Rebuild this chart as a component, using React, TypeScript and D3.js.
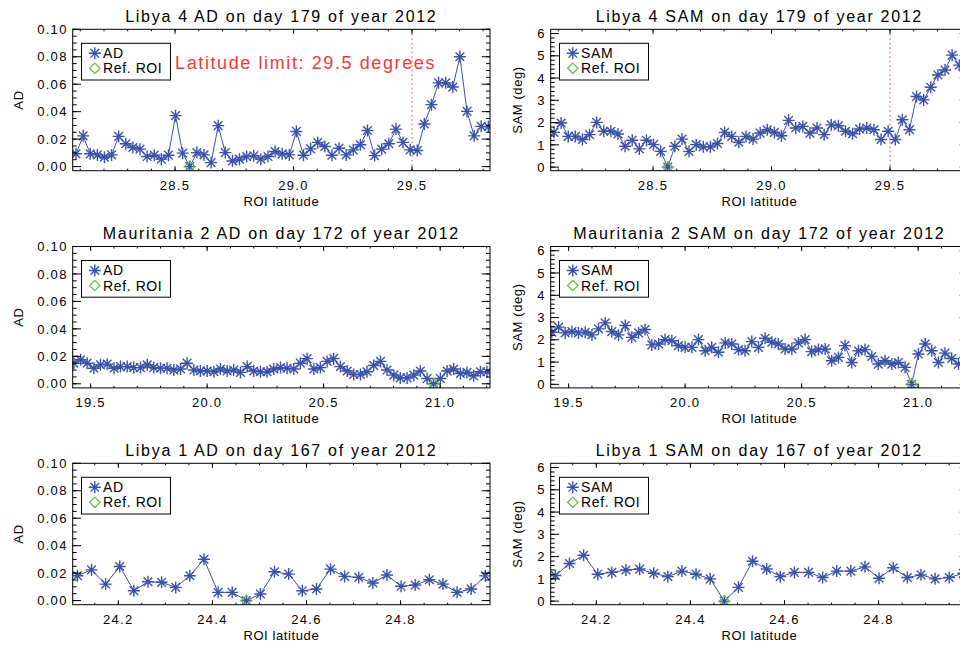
import React from 'react';
import * as d3 from 'd3';

// ---------------- data ----------------
const LAT_LIBYA4 = [28.082, 28.112, 28.142, 28.172, 28.202, 28.232, 28.262, 28.292, 28.322, 28.352,
  28.382, 28.412, 28.442, 28.472, 28.502, 28.532, 28.562, 28.592, 28.622, 28.652,
  28.682, 28.712, 28.742, 28.772, 28.802, 28.832, 28.862, 28.892, 28.922, 28.952,
  28.982, 29.012, 29.042, 29.072, 29.102, 29.132, 29.162, 29.192, 29.222, 29.252,
  29.282, 29.312, 29.342, 29.372, 29.402, 29.432, 29.462, 29.492, 29.522, 29.552,
  29.582, 29.612, 29.642, 29.672, 29.702, 29.732, 29.762, 29.792, 29.822];
const AD_LIBYA4 = [0.0093, 0.0224, 0.0093, 0.0085, 0.0068, 0.0085, 0.0220, 0.0166, 0.0139, 0.0127,
  0.0073, 0.0083, 0.0054, 0.0083, 0.0371, 0.0098, 0.0, 0.0102, 0.0085, 0.0029,
  0.0298, 0.0102, 0.0041, 0.0054, 0.0073, 0.0078, 0.0054, 0.0073, 0.0110, 0.0093,
  0.0085, 0.0256, 0.0083, 0.0129, 0.0176, 0.0146, 0.0083, 0.0134, 0.0085, 0.0122,
  0.0159, 0.0263, 0.0080, 0.0127, 0.0166, 0.0273, 0.0176, 0.0122, 0.0117, 0.0310,
  0.0451, 0.0610, 0.0610, 0.0580, 0.0800, 0.0402, 0.0224, 0.0293, 0.0290];
const SAM_LIBYA4 = [1.56, 1.98, 1.38, 1.38, 1.24, 1.46, 2.01, 1.61, 1.61, 1.49,
  0.94, 1.21, 0.82, 1.21, 1.01, 0.71, 0.0, 0.94, 1.26, 0.71,
  1.01, 0.91, 0.91, 1.06, 1.56, 1.38, 1.12, 1.38, 1.26, 1.53,
  1.68, 1.56, 1.41, 2.10, 1.76, 1.83, 1.53, 1.76, 1.46, 1.90,
  1.86, 1.61, 1.50, 1.71, 1.76, 1.68, 1.24, 1.61, 1.24, 2.13,
  1.68, 3.17, 3.02, 3.59, 4.14, 4.36, 5.03, 4.58, 4.80];

const LAT_MAUR2 = [19.428, 19.457, 19.485, 19.514, 19.542, 19.571, 19.600, 19.628, 19.657, 19.685,
  19.714, 19.743, 19.771, 19.800, 19.828, 19.857, 19.886, 19.914, 19.943, 19.971,
  20.000, 20.029, 20.057, 20.086, 20.114, 20.143, 20.172, 20.200, 20.229, 20.257,
  20.286, 20.315, 20.343, 20.372, 20.400, 20.429, 20.458, 20.486, 20.515, 20.543,
  20.572, 20.601, 20.629, 20.658, 20.686, 20.715, 20.744, 20.772, 20.801, 20.829,
  20.858, 20.887, 20.915, 20.944, 20.972, 21.001, 21.030, 21.058, 21.087, 21.115,
  21.144, 21.173, 21.201];
const AD_MAUR2 = [0.0150, 0.0175, 0.0150, 0.0113, 0.0138, 0.0143, 0.0113, 0.0125, 0.0125, 0.0118,
  0.0118, 0.0138, 0.0118, 0.0113, 0.0113, 0.0100, 0.0108, 0.0150, 0.0100, 0.0093,
  0.0093, 0.0088, 0.0108, 0.0093, 0.0100, 0.0083, 0.0125, 0.0093, 0.0088, 0.0088,
  0.0108, 0.0118, 0.0113, 0.0108, 0.0150, 0.0183, 0.0108, 0.0118, 0.0163, 0.0183,
  0.0125, 0.0093, 0.0068, 0.0068, 0.0088, 0.0133, 0.0163, 0.0100, 0.0063, 0.0043,
  0.0043, 0.0063, 0.0093, 0.0038, 0.0, 0.0038, 0.0093, 0.0108, 0.0075, 0.0083,
  0.0058, 0.0088, 0.0088];
const SAM_MAUR2 = [2.34, 2.57, 2.31, 2.37, 2.31, 2.34, 2.22, 2.49, 2.76, 2.37,
  2.22, 2.64, 2.11, 2.31, 2.46, 1.77, 1.81, 2.01, 1.96, 1.74,
  1.66, 1.66, 2.01, 1.51, 1.66, 1.44, 1.86, 1.81, 1.56, 1.51,
  1.92, 1.66, 2.07, 1.89, 1.81, 1.59, 1.59, 1.86, 2.01, 1.47,
  1.56, 1.59, 1.06, 1.21, 1.74, 0.98, 1.51, 1.56, 1.25, 0.91,
  1.06, 0.91, 0.98, 0.76, 0.0, 1.36, 1.81, 1.51, 0.98, 1.40,
  1.16, 0.91, 1.20];

const LAT_LIBYA1 = [24.113, 24.143, 24.173, 24.203, 24.233, 24.263, 24.292, 24.322, 24.352, 24.382,
  24.412, 24.442, 24.472, 24.502, 24.532, 24.562, 24.591, 24.621, 24.651, 24.681,
  24.711, 24.741, 24.771, 24.801, 24.831, 24.861, 24.890, 24.920, 24.950, 24.980];
const AD_LIBYA1 = [0.0181, 0.0224, 0.0120, 0.0248, 0.0072, 0.0137, 0.0133, 0.0096, 0.0181, 0.0301,
  0.0060, 0.0060, 0.0, 0.0048, 0.0210, 0.0193, 0.0072, 0.0084, 0.0229, 0.0176,
  0.0169, 0.0128, 0.0186, 0.0104, 0.0113, 0.0152, 0.0120, 0.0060, 0.0084, 0.0180];
const SAM_LIBYA1 = [1.15, 1.69, 2.06, 1.21, 1.29, 1.40, 1.44, 1.25, 1.10, 1.35,
  1.21, 1.00, 0.0, 0.62, 1.79, 1.44, 1.10, 1.29, 1.29, 1.06,
  1.35, 1.35, 1.54, 1.03, 1.50, 1.06, 1.18, 1.00, 1.06, 1.25];

const REF_LAT = [28.562, 20.972, 24.472];
const REF_VALUE = 0;

const X_DOMAINS: [number, number][] = [[28.068, 29.829], [19.423, 21.214], [24.103, 24.990]];
const X_TICKS = [[28.5, 29.0, 29.5], [19.5, 20.0, 20.5, 21.0], [24.2, 24.4, 24.6, 24.8]];
const X_MINOR_STEP = [0.1, 0.1, 0.05];
const AD_TICKS = [0, 0.02, 0.04, 0.06, 0.08, 0.1];
const SAM_TICKS = [0, 1, 2, 3, 4, 5, 6];
const AD_DOMAIN: [number, number] = [-0.003, 0.1];
const SAM_DOMAIN: [number, number] = [-0.16, 6.19];

const TITLES_AD = ['Libya 4 AD on day 179 of year 2012', 'Mauritania 2 AD on day 172 of year 2012', 'Libya 1 AD on day 167 of year 2012'];
const TITLES_SAM = ['Libya 4 SAM on day 179 of year 2012', 'Mauritania 2 SAM on day 172 of year 2012', 'Libya 1 SAM on day 167 of year 2012'];
const LAT_LIMIT = 29.5;
const LIMIT_TEXT = 'Latitude limit: 29.5 degrees';

// ---------------- styling ----------------
const FONT = '"Liberation Sans", Arial, sans-serif';
const BLUE = '#3a52a8';
const GREEN = '#6cc04a';
const RED = '#f03a3a';
const W = 417.3;
const H = 141.4;
const LEFT_X = [72.7, 550.7];
const TOP_Y = [29.3, 246.5, 463.3];

function starPath(cx: number, cy: number, r: number) {
  const d = r * 0.72;
  return `M${cx - r},${cy}h${2 * r}M${cx},${cy - r}v${2 * r}M${cx - d},${cy - d}l${2 * d},${2 * d}M${cx - d},${cy + d}l${2 * d},${-2 * d}`;
}
function diamondPath(cx: number, cy: number, r: number) {
  return `M${cx},${cy - r}L${cx + r},${cy}L${cx},${cy + r}L${cx - r},${cy}Z`;
}

type PanelProps = {
  id: string; left: number; top: number; lat: number[]; vals: number[];
  xDomain: [number, number]; xTicks: number[]; xMinor: number;
  yDomain: [number, number]; yTicks: number[]; yMinor: number; yFmt: (v: number) => string;
  yTitle: string; yTitleOffset: number; title: string; legend: string; refLat: number;
  limit?: boolean; limitText?: boolean;
};

function Panel(p: PanelProps) {
  const x = d3.scaleLinear().domain(p.xDomain).range([p.left, p.left + W]);
  const y = d3.scaleLinear().domain(p.yDomain).range([p.top + H, p.top]);
  const pts = p.lat.map((la, i) => [la, p.vals[i]] as [number, number]);
  const line = d3.line<[number, number]>().x(d => x(d[0])).y(d => y(d[1]));
  const bottom = p.top + H;
  const right = p.left + W;
  const xMinor = d3.range(Math.ceil(p.xDomain[0] / p.xMinor - 1e-6), Math.floor(p.xDomain[1] / p.xMinor + 1e-6) + 1).map(k => k * p.xMinor);
  const yMinor = d3.range(Math.ceil(p.yDomain[0] / p.yMinor - 1e-6), Math.floor(p.yDomain[1] / p.yMinor + 1e-6) + 1).map(k => k * p.yMinor);
  const ticks: string[] = [];
  xMinor.forEach(v => { const X = x(v); ticks.push(`M${X},${bottom}v-2M${X},${p.top}v2`); });
  p.xTicks.forEach(v => { const X = x(v); ticks.push(`M${X},${bottom}v-4.5M${X},${p.top}v4.5`); });
  yMinor.forEach(v => { const Y = y(v); ticks.push(`M${p.left},${Y}h4M${right},${Y}h-4`); });
  p.yTicks.forEach(v => { const Y = y(v); ticks.push(`M${p.left},${Y}h8.3M${right},${Y}h-8.3`); });
  const lgX = p.left + 8.8;
  const lgY = p.top + 14;
  return (
    <g>
      <defs>
        <clipPath id={`clip-${p.id}`}>
          <rect x={p.left} y={p.top} width={W} height={H} />
        </clipPath>
      </defs>
      <text x={p.left + W / 2} y={p.top - 7.6} textAnchor="middle" fontSize={16} letterSpacing={1.7} fontFamily={FONT} fill="#000">{p.title}</text>
      <g clipPath={`url(#clip-${p.id})`}>
        {p.limit && (
          <line x1={x(LAT_LIMIT)} x2={x(LAT_LIMIT)} y1={p.top} y2={bottom} stroke={RED} strokeWidth={1} strokeDasharray="1.5,3" />
        )}
        <path d={line(pts) || ''} fill="none" stroke={BLUE} strokeWidth={1} />
        {pts.map((d, i) => (
          <path key={i} d={starPath(x(d[0]), y(d[1]), 6)} stroke={BLUE} strokeWidth={1.4} fill="none" />
        ))}
        <path d={diamondPath(x(p.refLat), y(REF_VALUE), 5.2)} stroke={GREEN} strokeWidth={1.3} fill="none" />
      </g>
      <rect x={p.left} y={p.top} width={W} height={H} fill="none" stroke="#000" strokeWidth={1} />
      <path d={ticks.join('')} stroke="#000" strokeWidth={1} fill="none" />
      {p.xTicks.map(v => (
        <text key={v} x={x(v)} y={bottom + 19.3} textAnchor="middle" fontSize={13} letterSpacing={1.3} fontFamily={FONT} fill="#000">{v.toFixed(1)}</text>
      ))}
      {p.yTicks.map(v => (
        <text key={v} x={p.left - 5} y={y(v)} dy="0.36em" textAnchor="end" fontSize={13} letterSpacing={1.3} fontFamily={FONT} fill="#000">{p.yFmt(v)}</text>
      ))}
      <text x={p.left + W / 2} y={bottom + 35.5} textAnchor="middle" fontSize={13} letterSpacing={0.6} fontFamily={FONT} fill="#000">ROI latitude</text>
      <text transform={`translate(${p.left - p.yTitleOffset},${p.top + H / 2}) rotate(-90)`} textAnchor="middle" fontSize={13} letterSpacing={0.6} fontFamily={FONT} fill="#000">{p.yTitle}</text>
      {p.limitText && (
        <text x={x(28.5)} y={y(0.0709)} fontSize={18} letterSpacing={1.6} fontFamily={FONT} fill={RED}>{LIMIT_TEXT}</text>
      )}
      <rect x={lgX} y={lgY} width={89} height={36.7} fill="#fff" stroke="#000" strokeWidth={1} />
      <path d={starPath(lgX + 13.3, lgY + 10, 6)} stroke={BLUE} strokeWidth={1.4} fill="none" />
      <text x={lgX + 21.6} y={lgY + 14.2} fontSize={14} letterSpacing={0.6} fontFamily={FONT} fill="#000">{p.legend}</text>
      <path d={diamondPath(lgX + 13.3, lgY + 25, 5.2)} stroke={GREEN} strokeWidth={1.3} fill="none" />
      <text x={lgX + 21.6} y={lgY + 30} fontSize={14} letterSpacing={0.6} fontFamily={FONT} fill="#000">Ref. ROI</text>
    </g>
  );
}

export default function App() {
  const rows = [
    { lat: LAT_LIBYA4, ad: AD_LIBYA4, sam: SAM_LIBYA4 },
    { lat: LAT_MAUR2, ad: AD_MAUR2, sam: SAM_MAUR2 },
    { lat: LAT_LIBYA1, ad: AD_LIBYA1, sam: SAM_LIBYA1 },
  ];
  const fmtAD = d3.format('.2f');
  const fmtSAM = d3.format('d');
  return (
    <svg width={960} height={645} style={{ position: 'absolute', left: 0, top: 0, background: '#fff' }}>
      <rect x={0} y={0} width={960} height={645} fill="#fff" />
      {rows.map((r, i) => (
        <g key={i}>
          <Panel id={`ad${i}`} left={LEFT_X[0]} top={TOP_Y[i]} lat={r.lat} vals={r.ad}
            xDomain={X_DOMAINS[i]} xTicks={X_TICKS[i]} xMinor={X_MINOR_STEP[i]}
            yDomain={AD_DOMAIN} yTicks={AD_TICKS} yMinor={0.005} yFmt={fmtAD}
            yTitle="AD" yTitleOffset={50} title={TITLES_AD[i]} legend="AD" refLat={REF_LAT[i]}
            limit={i === 0} limitText={i === 0} />
          <Panel id={`sam${i}`} left={LEFT_X[1]} top={TOP_Y[i]} lat={r.lat} vals={r.sam}
            xDomain={X_DOMAINS[i]} xTicks={X_TICKS[i]} xMinor={X_MINOR_STEP[i]}
            yDomain={SAM_DOMAIN} yTicks={SAM_TICKS} yMinor={0.2} yFmt={fmtSAM}
            yTitle="SAM (deg)" yTitleOffset={28.5} title={TITLES_SAM[i]} legend="SAM" refLat={REF_LAT[i]}
            limit={i === 0} />
        </g>
      ))}
    </svg>
  );
}
